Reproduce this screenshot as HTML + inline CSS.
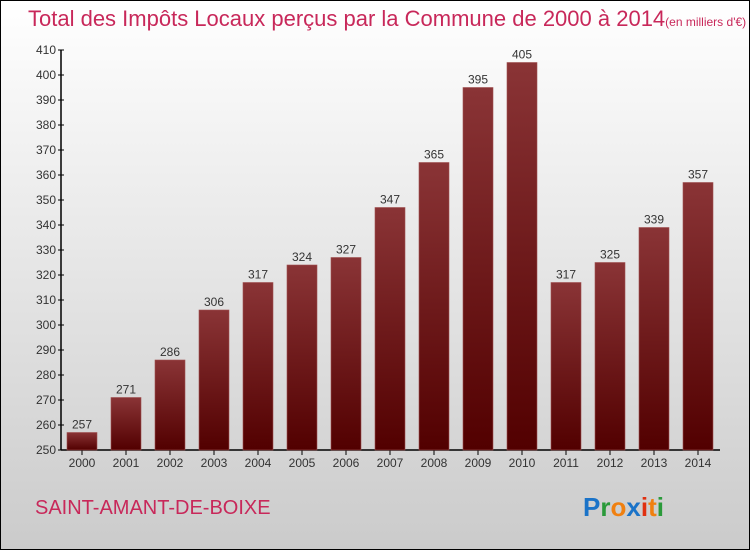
<!DOCTYPE html>
<html><head><meta charset="utf-8"><style>
html,body{margin:0;padding:0}
body{width:750px;height:550px;overflow:hidden;font-family:"Liberation Sans",sans-serif}
#wrap{position:absolute;left:0;top:0;width:748px;height:548px;border:1px solid #000;background:linear-gradient(#ffffff,#cbcbcb)}
</style></head><body>
<div id="wrap">
<svg width="750" height="550" style="position:absolute;left:-1px;top:-1px">
<defs><linearGradient id="bg" x1="0" y1="0" x2="0" y2="1"><stop offset="0" stop-color="#8a3436"/><stop offset="1" stop-color="#520000"/></linearGradient></defs>
<text x="28" y="26" font-size="22" fill="#c8285a">Total des Impôts Locaux perçus par la Commune de 2000 à 2014<tspan font-size="12">(en milliers d'€)</tspan></text>
<g id="axes"></g><g id="bars"></g>
<text x="35" y="514" font-size="20" fill="#c8285a">SAINT-AMANT-DE-BOIXE</text>
<g font-size="26" font-weight="bold" font-family="Liberation Sans, sans-serif">
<text x="583" y="516"><tspan fill="#1a73c8">P</tspan><tspan fill="#2a9a3a">r</tspan><tspan fill="#f08010">o</tspan><tspan fill="#1a73c8">x</tspan><tspan fill="#e03010">i</tspan><tspan fill="#f08010">t</tspan><tspan fill="#2a9a3a">i</tspan></text></g>
</svg></div>
<script>
const years=["2000","2001","2002","2003","2004","2005","2006","2007","2008","2009","2010","2011","2012","2013","2014"];
const values=[257,271,286,306,317,324,327,347,365,395,405,317,325,339,357];
const ticks=[250,260,270,280,290,300,310,320,330,340,350,360,370,380,390,400,410];
const NS="http://www.w3.org/2000/svg";
const y=v=>450-(v-250)*2.5, x=i=>82+i*44;
const ax=document.getElementById('axes'), bg=document.getElementById('bars');
function mk(p,t,a){const e=document.createElementNS(NS,t);for(const k in a)e.setAttribute(k,a[k]);p.appendChild(e);return e;}
const yl=mk(ax,'line',{x1:61,y1:50,x2:61,y2:450,stroke:'#000','stroke-width':1.5});


const xl=mk(ax,'line',{x1:61,y1:450,x2:720,y2:450,stroke:'#000','stroke-width':1.5});


ticks.forEach(t=>{mk(ax,'line',{x1:58,x2:64,y1:y(t),y2:y(t),stroke:'#000'});
const tx=mk(ax,'text',{x:56,y:y(t)+4,'text-anchor':'end','font-size':12,fill:'#333'});tx.textContent=t;

});
years.forEach((yr,i)=>{
mk(ax,'line',{x1:x(i),x2:x(i),y1:450,y2:455,stroke:'#000'});
const r=mk(bg,'rect',{x:x(i)-15,y:y(values[i]),width:30,height:450-y(values[i]),fill:'url(#bg)',stroke:'#a05050','stroke-width':0.6});


const lb=mk(bg,'text',{x:x(i),y:y(values[i])-4,'text-anchor':'middle','font-size':12,fill:'#333'});lb.textContent=values[i];


const tl=mk(ax,'text',{x:x(i),y:467,'text-anchor':'middle','font-size':12,fill:'#333'});tl.textContent=yr;


});
</script>
</body></html>
